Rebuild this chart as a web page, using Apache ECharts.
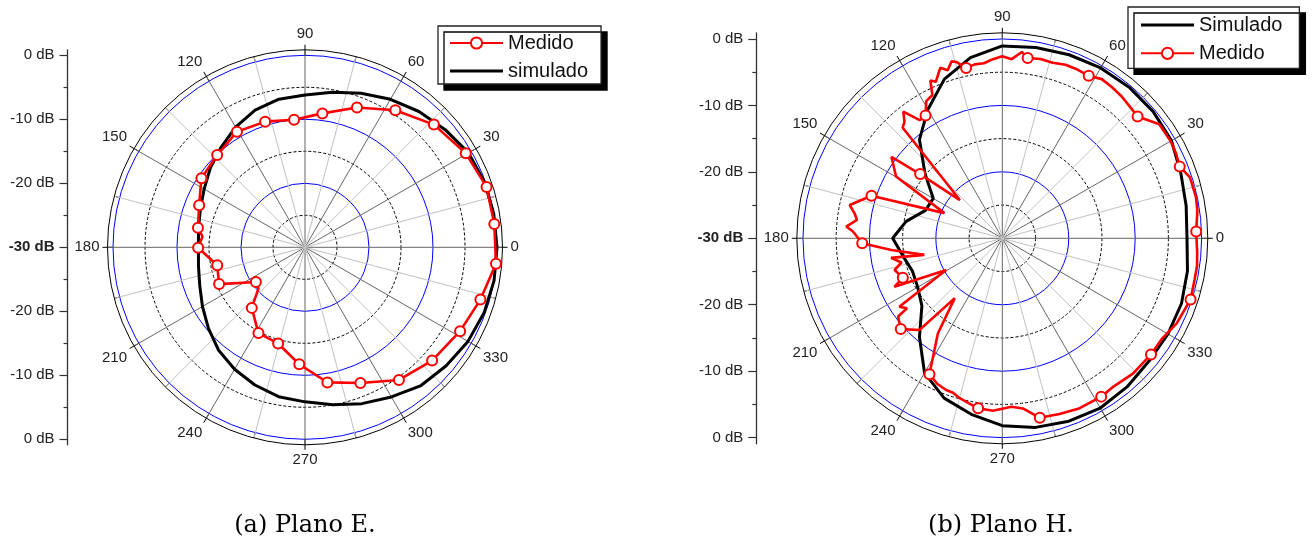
<!DOCTYPE html>
<html><head><meta charset="utf-8">
<script src="https://cdn.jsdelivr.net/npm/echarts@6/dist/echarts.min.js"></script>
<style>html,body{margin:0;padding:0;background:#fff}#c{width:1315px;height:550px}</style>
</head><body><div id="c"></div>
<script>
// ---------- DATA ----------
const angleLabels = [0, 30, 60, 90, 120, 150, 180, 210, 240, 270, 300, 330];
const dbTicks = [0, -10, -20, -30, -20, -10, 0];

// Plano E - simulated (every 10 deg, 0..360)
const eSimAng = [0,10,20,30,40,50,60,70,80,90,100,110,120,130,140,150,160,170,180,190,200,210,220,230,240,250,260,270,280,290,300,310,320,330,340,350,360];
const eSimDb  = [0,-0.05,-0.15,-0.5,-1.4,-2.3,-3.3,-4.4,-5.4,-6.2,-6.5,-7.2,-8.3,-9.6,-10.7,-11.8,-12.6,-13.1,-13.35,-13.1,-12.5,-11.5,-10.3,-9.0,-8.0,-7.1,-6.3,-5.85,-5.0,-4.0,-3.0,-1.8,-1.2,-0.6,-0.2,0,0];

// Plano E - measured
const eMedAng  = [7.0,18.4,30.3,43.6,56.6,69.6,82.6,94.9,107.6,120.5,133.6,146.3,158.3,169.7,174,180.2,191.6,203.2,215.3,221.5,228.7,241.5,254.4,267.2,279.4,292.2,305.3,318.3,331.6,343.4,355.1,7.0];
const eMedDb   = [-0.2,-0.1,-0.9,-2.2,-4.35,-6.7,-8.9,-10.0,-9.4,-9.05,-10.1,-10.55,-12.2,-13.0,-13.9,-13.3,-16.0,-15.4,-20.6,-20.3,-17.4,-14.75,-14.4,-11.7,-8.6,-7.1,-4.6,-3.4,-2.45,-1.4,-0.05,-0.2];
const eMedMark = [1,1,1,1,1,1,1,1,1,1,1,1,1,1,0,1,1,1,1,0,1,1,1,1,1,1,1,1,1,1,1,0];

// Plano H - simulated (every 10 deg, 0..360)
const hSimAng = eSimAng;
const hSimDb  = [-2.2,-1.9,-1.4,-0.6,-0.35,-0.3,-0.4,-0.6,-0.85,-1.05,-2.4,-4.5,-7.6,-10.6,-14.8,-18.0,-17.7,-15.3,-13.5,-14.8,-15.6,-15.3,-14.2,-10.6,-6.6,-4.4,-3.1,-1.8,-1.1,-0.7,-0.5,-0.8,-1.2,-1.2,-1.3,-1.7,-2.2];

// Plano H - measured
const hMedAng  = [2,8,12,18,22,26,30,36,42,46,50,54,58,62,66,70,74,78,82,84,87,90,93,96,99,102,104.5,106,108,110,113,114.5,116,119,122,125,128,130,132,138,142,143.7,149.8,156.5,162,167.7,170.4,172.8,175.7,177.4,182,186,192,190,193.5,196.4,201.6,204.2,209.5,212.6,213.6,216.3,216.9,221.8,227.9,231.5,235.9,241.8,246,249.7,252.3,255.1,257.6,261.9,266.9,273.1,276.9,281.8,288,294,302,307,314,322,328,334,342,348,352,356,2];
const hMedDb   = [-0.8,-0.35,-0.2,-0.3,-1.2,-0.9,-0.75,-0.8,-2.6,-2.4,-2.1,-1.9,-1.75,-2.3,-2.2,-2.2,-2.5,-2.4,-2.6,-1.8,-3.0,-2.6,-3.0,-3.5,-3.5,-3.8,-2.6,-2.3,-3.4,-2.7,-4.4,-3.9,-6.0,-6.4,-8.2,-8.3,-5.8,-7.1,-7.6,-21.4,-14.3,-9.3,-11.5,-20.5,-9.3,-6.5,-7.45,-7.95,-6.45,-7.5,-8.9,-13.2,-18.0,-13.0,-14.4,-13.1,-13.9,-12.2,-20.3,-14.6,-11.4,-12.2,-10.4,-9.5,-11.4,-18.5,-12.7,-6.8,-6.0,-5.65,-5.6,-5.1,-4.8,-4.15,-4.0,-4.6,-4.2,-2.4,-2.2,-1.9,-1.9,-2.1,-1.7,-1.6,-1.6,-0.8,-0.2,-0.4,-0.4,-0.6,-0.8];
const hMedMark = [1,0,0,0,1,0,0,0,1,0,0,0,0,1,0,0,0,0,1,0,0,0,0,0,0,1,0,0,0,0,0,0,0,0,1,0,0,0,0,0,1,0,0,0,1,0,0,0,0,0,1,0,0,0,0,0,1,0,0,0,0,0,0,1,0,0,0,1,0,0,0,0,0,1,0,0,0,1,0,0,1,0,0,1,0,0,1,0,0,0,0];

// ---------- BUILD ----------
const FONT = '"Liberation Sans", Arial, Helvetica, sans-serif';
const lineData = (ang, db) => ang.map((a, i) => [db[i], a]);
const markData = (ang, db, mk) => ang.map((a, i) => ({value: [db[i], a], symbol: mk[i] ? 'emptyCircle' : 'none'}));
const LINE_ICON = 'path://M0,0 H100 V5.6 H0 Z';

const plots = [
  {c: [305, 247.3], r: 197.5, rmax: 0.86, axisX: 67.5},
  {c: [1002.3, 238.3], r: 205.5, rmax: 0.93, axisX: 756.3}
];

const polar = [], angleAxis = [], radiusAxis = [], grid = [], xAxis = [], yAxis = [];
plots.forEach((p, k) => {
  polar.push({center: p.c, radius: p.r});
  polar.push({center: p.c, radius: p.r});
  const pi = 2 * k;
  angleAxis.push({
    polarIndex: pi, type: 'value', min: 0, max: 360, interval: 30, startAngle: 0, clockwise: false,
    axisLine: {show: true, lineStyle: {color: '#000', width: 1}},
    axisTick: {show: true, inside: false, length: 5, lineStyle: {color: '#000', width: 1}},
    axisLabel: {show: true, margin: 8, fontSize: 15, color: '#222', fontFamily: FONT,
      formatter: v => angleLabels.indexOf(v) >= 0 ? String(v) : ''},
    splitLine: {show: false}
  });
  angleAxis.push({
    polarIndex: pi + 1, type: 'value', min: 0, max: 360, interval: 15, startAngle: 0, clockwise: false,
    axisLine: {show: false},
    axisTick: {show: true, inside: true, length: 6, lineStyle: {color: '#000', width: 1}},
    axisLabel: {show: false},
    splitLine: {show: true, lineStyle: {color: ['#666666', '#c2c2c2'], width: 1}}
  });
  radiusAxis.push({
    polarIndex: pi, type: 'value', min: -30, max: p.rmax, interval: 5,
    axisLine: {show: false}, axisTick: {show: false}, axisLabel: {show: false},
    splitLine: {show: true, lineStyle: {color: ['transparent','transparent','#0000ff','transparent','#0000ff','transparent','#0000ff','transparent'], width: 1}}
  });
  radiusAxis.push({
    polarIndex: pi + 1, type: 'value', min: -30, max: p.rmax, interval: 5,
    axisLine: {show: false}, axisTick: {show: false}, axisLabel: {show: false},
    splitLine: {show: true, lineStyle: {color: ['transparent','#000','transparent','#000','transparent','#000','transparent','transparent'], width: 1, type: [3, 2]}}
  });

  const full = 30 + p.rmax;
  const r0 = p.r * 30 / full;
  grid.push({left: p.axisX, top: p.c[1] - p.r, width: 10, height: 2 * p.r, outerBoundsMode: 'none', containLabel: false});
  grid.push({left: p.axisX, top: p.c[1] - r0, width: 10, height: 2 * r0, outerBoundsMode: 'none', containLabel: false});
  const g = 2 * k;
  xAxis.push({gridIndex: g, type: 'value', show: false, min: 0, max: 1});
  xAxis.push({gridIndex: g + 1, type: 'value', show: false, min: 0, max: 1});
  yAxis.push({gridIndex: g, type: 'value', min: -full, max: full,
    axisLine: {show: true, lineStyle: {color: '#333', width: 1.3}},
    axisTick: {show: false}, axisLabel: {show: false}, splitLine: {show: false}});
  yAxis.push({gridIndex: g + 1, type: 'value', min: -30, max: 30, interval: 10,
    axisLine: {show: false},
    axisTick: {show: true, length: 8, lineStyle: {color: '#333', width: 1.2}},
    minorTick: {show: true, splitNumber: 2, length: 4, lineStyle: {color: '#333', width: 1.2}},
    axisLabel: {show: true, margin: 13, fontSize: 15, color: '#222', fontFamily: FONT,
      formatter: v => {
        const idx = Math.round((30 - v) / 10);
        const t = dbTicks[idx] + ' dB';
        return v === 0 ? '{b|' + t + '}' : t;
      },
      rich: {b: {fontWeight: 'bold', fontSize: 15, fontFamily: FONT, color: '#222'}}},
    splitLine: {show: false}, minorSplitLine: {show: false}});
});

const series = [
  {type: 'line', name: 'simulado', coordinateSystem: 'polar', polarIndex: 0,
   data: lineData(eSimAng, eSimDb), symbol: 'none', lineStyle: {color: '#000', width: 3}, itemStyle: {color: '#000'}, z: 3},
  {type: 'line', name: 'Medido', coordinateSystem: 'polar', polarIndex: 0,
   data: markData(eMedAng, eMedDb, eMedMark), symbol: 'emptyCircle', symbolSize: 10, showSymbol: true,
   lineStyle: {color: '#ff0000', width: 2.6}, itemStyle: {color: '#ff0000', borderWidth: 1.5}, z: 4},
  {type: 'line', name: 'Simulado', coordinateSystem: 'polar', polarIndex: 2,
   data: lineData(hSimAng, hSimDb), symbol: 'none', lineStyle: {color: '#000', width: 3}, itemStyle: {color: '#000'}, z: 3},
  {type: 'line', name: 'Medido', coordinateSystem: 'polar', polarIndex: 2,
   data: markData(hMedAng, hMedDb, hMedMark), symbol: 'emptyCircle', symbolSize: 10, showSymbol: true,
   lineStyle: {color: '#ff0000', width: 2.6}, itemStyle: {color: '#ff0000', borderWidth: 1.5}, z: 4}
];

const legendBase = {
  orient: 'vertical', selectedMode: false, itemWidth: 53, itemHeight: 14, itemGap: 8,
  backgroundColor: '#fff', borderColor: '#222', borderWidth: 1.3,
  shadowColor: '#000', shadowBlur: 0, shadowOffsetX: 6, shadowOffsetY: 6,
  textStyle: {fontSize: 20, fontFamily: FONT, color: '#111', lineHeight: 20}
};

const option = {
  animation: false,
  backgroundColor: '#fff',
  title: [
    {text: '(a) Plano E.', left: 305, top: 514, textAlign: 'center', padding: 0,
     textStyle: {fontFamily: '"DejaVu Serif", serif', fontSize: 24, fontWeight: 'normal', color: '#000'}},
    {text: '(b) Plano H.', left: 1001, top: 514, textAlign: 'center', padding: 0,
     textStyle: {fontFamily: '"DejaVu Serif", serif', fontSize: 24, fontWeight: 'normal', color: '#000'}}
  ],
  legend: [
    Object.assign({}, legendBase, {data: ['Medido', {name: 'simulado', icon: LINE_ICON}], left: 438, top: 26, padding: [7, 13, 3, 11]}),
    Object.assign({}, legendBase, {data: [{name: 'Simulado', icon: LINE_ICON}, 'Medido'], left: 1128, top: 7, padding: [8, 17, 5, 12], itemGap: 8.3})
  ],
  polar, angleAxis, radiusAxis, grid, xAxis, yAxis, series
};

const chart = echarts.init(document.getElementById('c'), null, {renderer: 'canvas'});
chart.setOption(option);
</script>
</body></html>
